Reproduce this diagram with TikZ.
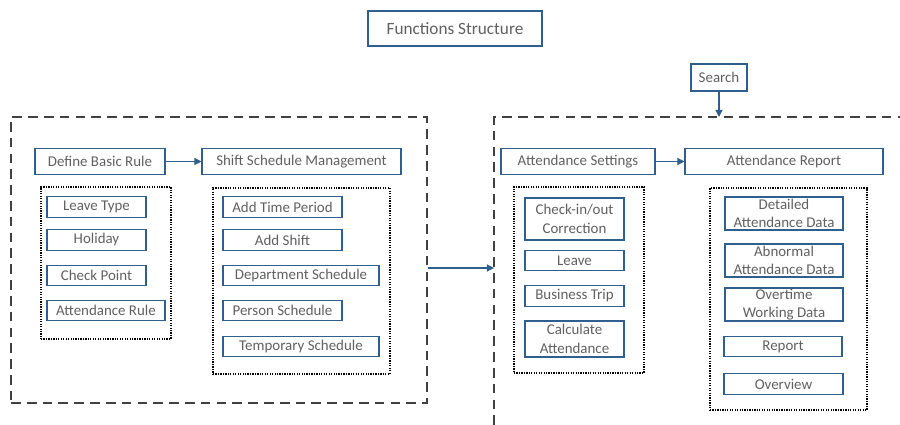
\documentclass[tikz,border=0pt]{standalone}
\usepackage{fontspec}
\setmainfont{Carlito}
\usepackage{xcolor}
\usetikzlibrary{arrows.meta,positioning,calc}

\definecolor{boxblue}{HTML}{2F5F8F}
\definecolor{txtgray}{HTML}{606060}
\definecolor{dashgray}{HTML}{404040}

\begin{document}
\begin{tikzpicture}[
    x=0.02cm, y=-0.02cm,
    every node/.style={font=\fontsize{8.5}{10.5}\selectfont, text=txtgray},
    func/.style={rectangle, draw=boxblue, line width=0.6pt, inner sep=1pt, align=center, minimum width=#1},
    func/.default=1.98cm,
    header/.style={func=#1, minimum height=0.53cm},
    item/.style={func=#1, minimum height=0.41cm},
    item/.default=1.98cm,
    group/.style={rectangle, draw=black, line width=0.6pt, dash pattern=on 0.7pt off 0.7pt},
    module/.style={draw=dashgray, line width=0.8pt, dash pattern=on 5.5pt off 3.5pt},
    arr/.style={draw=boxblue, line width=0.6pt, -{Triangle[length=4pt,width=4pt]}}
]
    \useasboundingbox (0,0) rectangle (900,425);

    % Title and search
    \node[func=3.48cm, minimum height=0.7cm, font=\fontsize{9.8}{11}\selectfont] (title) at (455,28.5) {Functions Structure};
    \node[func=1.12cm, minimum height=0.54cm] (search) at (719,77.5) {Search};

    % Left module
    \node[module, rectangle, minimum width=8.32cm, minimum height=5.72cm] (basic) at (219,260) {};
    \node[header=2.6cm] (rule) at (100,161.5) {Define Basic Rule};
    \node[header=3.98cm] (shift) at (301.5,161.5) {Shift Schedule Management};
    \draw[arr] (rule) -- (shift);

    \node[group, minimum width=2.6cm, minimum height=3.04cm] (rulegrp) at (106,263) {};
    \node[item] (leavetype) at (96.5,207) {Leave Type};
    \node[item] (holiday) at (96.5,240) {Holiday};
    \node[item] (checkpoint) at (96.5,275.5) {Check Point};
    \node[item=2.36cm] (attrule) at (106,310.5) {Attendance Rule};

    \node[group, minimum width=3.54cm, minimum height=3.72cm] (shiftgrp) at (301.5,281) {};
    \node[item=2.38cm] (timeperiod) at (282.5,207) {Add Time Period};
    \node[item=2.38cm] (addshift) at (282.5,240) {Add Shift};
    \node[item=3.12cm] (deptsched) at (301,275.5) {Department Schedule};
    \node[item=2.38cm] (personsched) at (282.5,310.5) {Person Schedule};
    \node[item=3.12cm] (tempsched) at (301,346.5) {Temporary Schedule};

    % Right module (runs off the page)
    \coordinate (rtop) at (494,117);
    \coordinate (rin) at (494,268);
    \draw[module] (494,425) -- (rtop) -- (900,117);
    \draw[arr] (basic.east |- rin) -- (rin);
    \draw[arr] (search) -- (search |- rtop);

    \node[header=3.08cm] (settings) at (578,161.5) {Attendance Settings};
    \node[header=3.96cm] (report) at (784,161.5) {Attendance Report};
    \draw[arr] (settings) -- (report);

    \node[group, minimum width=2.6cm, minimum height=3.72cm] (setgrp) at (579,280) {};
    \node[func, minimum height=0.84cm] (correction) at (574.5,219) {Check-in/out\\Correction};
    \node[item] (leave) at (574.5,260.5) {Leave};
    \node[item] (trip) at (574.5,296) {Business Trip};
    \node[func, minimum height=0.72cm] (calc) at (574.5,339) {Calculate\\Attendance};

    \node[group, minimum width=3.14cm, minimum height=4.44cm] (repgrp) at (788.5,299) {};
    \node[func=2.36cm, minimum height=0.66cm, inner sep=0pt] (detailed) at (784,213.5) {Detailed\\Attendance Data};
    \node[func=2.36cm, minimum height=0.66cm, inner sep=0pt] (abnormal) at (784,260.5) {Abnormal\\Attendance Data};
    \node[func=2.36cm, minimum height=0.66cm, inner sep=0pt] (overtime) at (784,304.5) {Overtime\\Working Data};
    \node[item=2.36cm] (repitem) at (783,346.5) {Report};
    \node[item=2.38cm] (overview) at (783.5,384) {Overview};
\end{tikzpicture}
\end{document}
